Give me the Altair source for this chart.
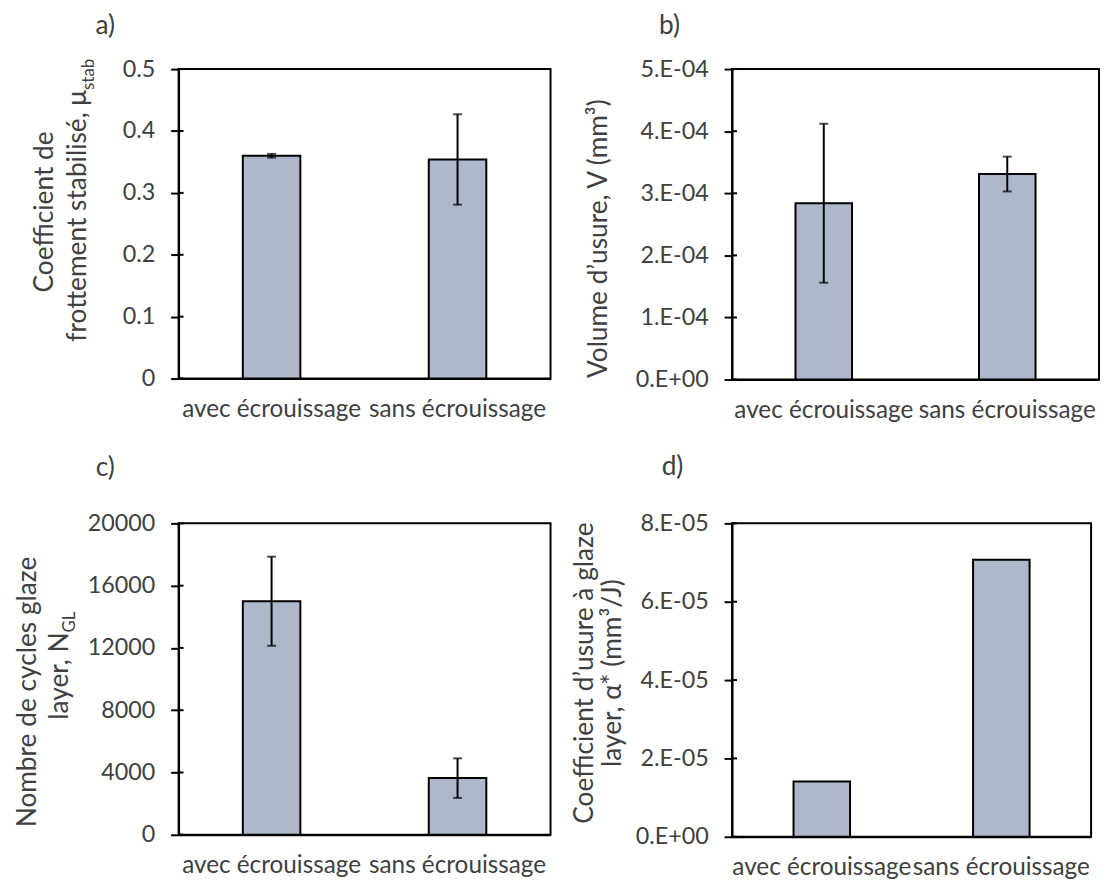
import altair as alt
import pandas as pd

# ---- data ----
categories = ["avec écrouissage", "sans écrouissage"]

mu_vals = [0.360, 0.354]
mu_errs = [0.003, 0.073]
mu_ticks = [0, 0.1, 0.2, 0.3, 0.4, 0.5]

vol_vals = [2.84e-4, 3.31e-4]
vol_errs = [1.28e-4, 0.28e-4]
vol_ticks = [0, 1e-4, 2e-4, 3e-4, 4e-4, 5e-4]

ngl_vals = [15000, 3640]
ngl_errs = [2860, 1270]
ngl_ticks = [0, 4000, 8000, 12000, 16000, 20000]

alpha_vals = [1.41e-5, 7.07e-5]
alpha_ticks = [0, 2e-5, 4e-5, 6e-5, 8e-5]

letters = ["a)", "b)", "c)", "d)"]

FONT = "Lato"
TXT = "#404040"
BAR = "#ADB9CA"
TICK_FS = 23.5
XLAB_FS = 24.5
TITLE_FS = 26.5
SUB_FS = 17


def text_layer(s, dx, dy, size=TITLE_FS, align="center", angle=270):
    return alt.Chart(pd.DataFrame({"t": [s]})).mark_text(
        angle=angle, align=align, baseline="middle", font=FONT,
        fontSize=size, color=TXT
    ).encode(text="t:N", x=alt.value(dx), y=alt.value(dy))


def panel(vals, errs, ymax, yticks, label_expr, texts, w, h, bw):
    df = pd.DataFrame({"cat": categories, "val": vals})
    if errs is not None:
        df["lo"] = [v - e for v, e in zip(vals, errs)]
        df["hi"] = [v + e for v, e in zip(vals, errs)]
    xenc = alt.X(
        "cat:N", sort=categories, title=None,
        scale=alt.Scale(paddingInner=0, paddingOuter=0),
        axis=alt.Axis(labelAngle=0, ticks=False, domainColor="black",
                      domainWidth=2, labelFont=FONT, labelFontSize=XLAB_FS,
                      labelColor=TXT, labelPadding=19, labelLimit=400),
    )
    yscale = alt.Scale(domain=[0, ymax], nice=False, zero=True)
    yaxis = alt.Axis(values=yticks, labelExpr=label_expr, tickSize=8,
                     tickColor="black", tickWidth=2, domainColor="black",
                     domainWidth=2, labelFont=FONT, labelFontSize=TICK_FS,
                     labelColor=TXT, labelPadding=16, grid=False)
    base = alt.Chart(df)
    layers = [
        base.mark_bar(size=bw, color=BAR, stroke="black", strokeWidth=2).encode(
            x=xenc, y=alt.Y("val:Q", scale=yscale, axis=yaxis, title=None)
        ),
        alt.Chart(pd.DataFrame({"t": yticks})).mark_rule(color="black", strokeWidth=2).encode(
            y=alt.Y("t:Q", title=None), x=alt.value(0), x2=alt.value(5)
        ),
    ]
    if errs is not None:
        layers += [
            base.mark_rule(color="black", strokeWidth=2).encode(
                x=xenc, y=alt.Y("lo:Q", title=None), y2="hi:Q"),
            base.mark_tick(orient="horizontal", size=9, thickness=2, color="black").encode(
                x=xenc, y=alt.Y("lo:Q", title=None)),
            base.mark_tick(orient="horizontal", size=9, thickness=2, color="black").encode(
                x=xenc, y=alt.Y("hi:Q", title=None)),
        ]
    for t in texts:
        layers.append(text_layer(*t))
    return alt.layer(*layers).properties(width=w, height=h)


pa = panel(
    mu_vals, mu_errs, 0.5, mu_ticks,
    "datum.value == 0 ? '0' : format(datum.value, '.1f')",
    [
        ("Coefficient de", -135, 144),
        ("frottement stabilisé, μ", -101, 21, TITLE_FS, "right"),
        ("stab", -90, 21, SUB_FS, "left"),
        (letters[0], -74, -43, TITLE_FS, "center", 0),
    ],
    375, 312, 58,
)

pb = panel(
    vol_vals, vol_errs, 5e-4, vol_ticks,
    "datum.value == 0 ? '0.E+00' : format(datum.value / 1e-4, '.0f') + '.E-04'",
    [
        ("Volume d’usure, V (mm³)", -134, 171),
        (letters[1], -63, -43, TITLE_FS, "center", 0),
    ],
    370, 313, 57,
)

pc = panel(
    ngl_vals, ngl_errs, 20000, ngl_ticks,
    "format(datum.value, 'd')",
    [
        ("Nombre de cycles glaze", -152, 170),
        ("layer, N", -120, 110, TITLE_FS, "right"),
        ("GL", -109, 110, SUB_FS, "left"),
        (letters[2], -74, -56, TITLE_FS, "center", 0),
    ],
    375, 314, 58,
)

pd_ = panel(
    alpha_vals, None, 8e-5, alpha_ticks,
    "datum.value == 0 ? '0.E+00' : format(datum.value / 1e-5, '.0f') + '.E-05'",
    [
        ("Coefficient d’usure à glaze", -148, 151),
        ("layer, α* (mm³/J)", -120, 151),
        (letters[3], -60, -57, TITLE_FS, "center", 0),
    ],
    362, 316, 57,
)

chart = alt.concat(
    pa, pb, pc, pd_, columns=2,
    spacing={"row": 145, "column": 183},
    bounds="flush", align="each",
).properties(
    padding={"left": 6, "top": 1, "right": 0, "bottom": 0}
).configure_view(stroke="black", strokeWidth=2)

chart.save("out.html", embed_options={"renderer": "svg", "actions": False})
